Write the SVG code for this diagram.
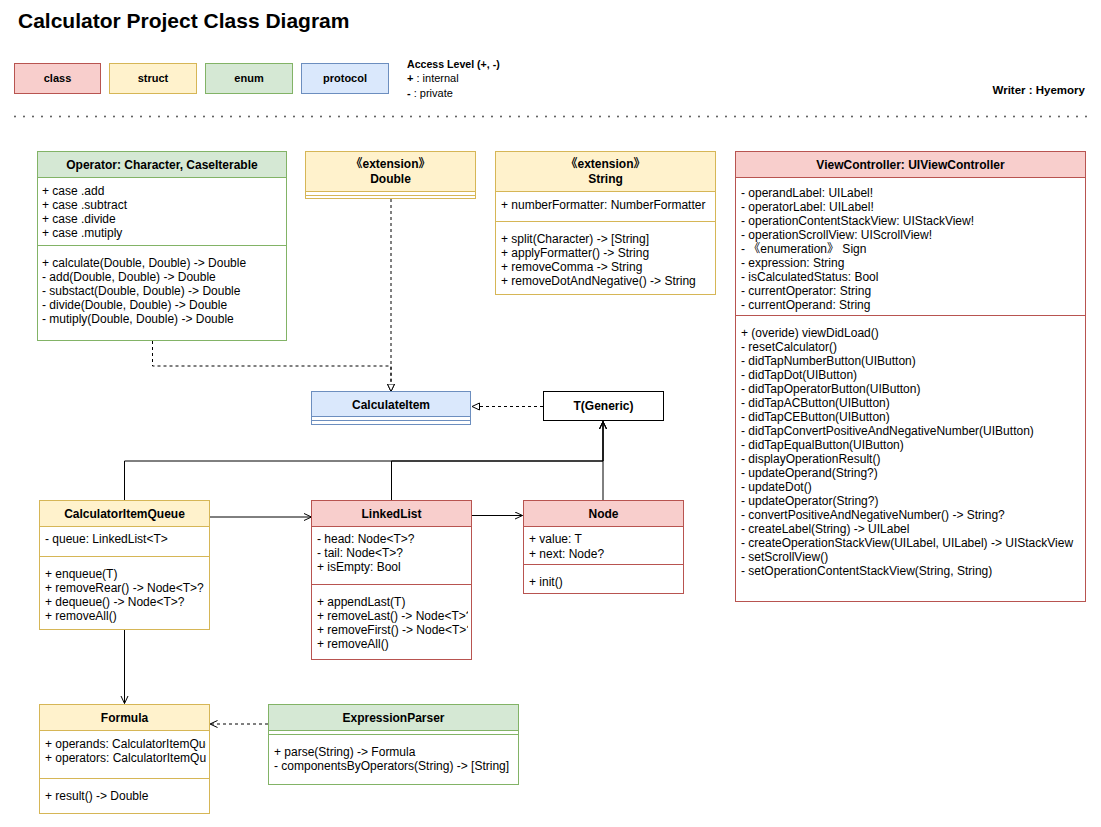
<svg xmlns="http://www.w3.org/2000/svg" width="1101" height="827" viewBox="0 0 1101 827">
<defs>
<style>
text{font-family:"Liberation Sans",Arial,Helvetica,"Noto Sans CJK SC",sans-serif;fill:#000}
.t{font-size:12px}
.h{font-size:12px;font-weight:bold;text-anchor:middle}
.lg{font-size:11px;font-weight:bold;text-anchor:middle}
.red{fill:#f8cecc;stroke:#b85450}
.yel{fill:#fff2cc;stroke:#d6b656}
.grn{fill:#d5e8d4;stroke:#82b366}
.blu{fill:#dae8fc;stroke:#6c8ebf}
.wr{fill:#fff;stroke:#b85450}
.wy{fill:#fff;stroke:#d6b656}
.wg{fill:#fff;stroke:#82b366}
.lr{stroke:#b85450}
.ly{stroke:#d6b656}
.lgn{stroke:#82b366}
.lb{stroke:#6c8ebf}
.c{fill:none;stroke:#000;stroke-width:1}
.d{fill:none;stroke:#000;stroke-width:1;stroke-dasharray:3 3}
</style>
<marker id="tri" markerUnits="userSpaceOnUse" markerWidth="10" markerHeight="10" refX="8" refY="4" orient="auto">
<path d="M0.5,0.5 L8,4 L0.5,7.5 z" fill="#fff" stroke="#000" stroke-width="1"/>
</marker>
<marker id="open" markerUnits="userSpaceOnUse" markerWidth="10" markerHeight="10" refX="8" refY="4" orient="auto">
<path d="M0.5,0.5 L8,4 L0.5,7.5" fill="none" stroke="#000" stroke-width="1"/>
</marker>
<clipPath id="clipLL"><rect x="312" y="580" width="156" height="80"/></clipPath>
<clipPath id="clipF"><rect x="39" y="731" width="167" height="50"/></clipPath>
</defs>
<rect width="1101" height="827" fill="#fff"/>

<g id="header">
<text x="18" y="28" style="font-size:21px;font-weight:bold">Calculator Project Class Diagram</text>
<rect class="red" x="14.5" y="63.5" width="86" height="30"/>
<text class="lg" x="57.5" y="82">class</text>
<rect class="yel" x="109.5" y="63.5" width="87" height="30"/>
<text class="lg" x="153" y="82">struct</text>
<rect class="grn" x="205.5" y="63.5" width="87" height="30"/>
<text class="lg" x="249" y="82">enum</text>
<rect class="blu" x="301.5" y="63.5" width="87" height="30"/>
<text class="lg" x="345" y="82">protocol</text>
<text x="407" y="68" style="font-size:10.6px;font-weight:bold">Access Level (+, -)</text>
<text x="407" y="82" style="font-size:11px"><tspan font-weight="bold">+</tspan> : internal</text>
<text x="407" y="97" style="font-size:11px"><tspan font-weight="bold">-</tspan>  : private</text>
<text x="1085" y="94" style="font-size:11.5px;font-weight:bold;text-anchor:end">Writer : Hyemory</text>
<line x1="15" y1="116.5" x2="1092" y2="116.5" stroke="#444" stroke-width="1.8" stroke-linecap="round" stroke-dasharray="0 9"/>
</g>

<g id="connectors">
<path class="d" d="M152.5 341 V366 H391 V391.5" marker-end="url(#tri)"/>
<path class="d" d="M391 199 V391.5" marker-end="url(#tri)"/>
<path class="d" d="M543 406.5 H472" marker-end="url(#tri)"/>
<path class="c" d="M124.5 500.5 V461 H603 V421.5" marker-end="url(#open)"/>
<path class="c" d="M391.5 500.5 V461 H603 V421.5" marker-end="url(#open)"/>
<path class="c" d="M603 500 V421.5" marker-end="url(#open)"/>
<path class="c" d="M209 517 H311.5" marker-end="url(#open)"/>
<path class="c" d="M472 515.5 H522.5" marker-end="url(#open)"/>
<path class="c" d="M124.5 630 V703.5" marker-end="url(#open)"/>
<path class="d" d="M268 724 H210" marker-end="url(#open)"/>
</g>

<g id="Operator">
<rect class="wg" x="37.5" y="151.5" width="249" height="189"/>
<rect class="grn" x="37.5" y="151.5" width="249" height="26"/>
<line class="lgn" x1="37.5" y1="245.5" x2="286.5" y2="245.5"/>
<text class="h" x="162" y="169">Operator: Character, CaseIterable</text>
<text class="t" x="42" y="195">+ case .add</text>
<text class="t" x="42" y="209">+ case .subtract</text>
<text class="t" x="42" y="223">+ case .divide</text>
<text class="t" x="42" y="237">+ case .mutiply</text>
<text class="t" x="42" y="267">+ calculate(Double, Double) -&gt; Double</text>
<text class="t" x="42" y="281">- add(Double, Double) -&gt; Double</text>
<text class="t" x="42" y="295">- substact(Double, Double) -&gt; Double</text>
<text class="t" x="42" y="309">- divide(Double, Double) -&gt; Double</text>
<text class="t" x="42" y="323">- mutiply(Double, Double) -&gt; Double</text>
</g>

<g id="ExtDouble">
<rect class="yel" x="305.5" y="151.5" width="170" height="47"/>
<line class="ly" x1="305.5" y1="191.5" x2="475.5" y2="191.5"/>
<rect x="306" y="192" width="169" height="6" fill="#fff"/>
<line class="ly" x1="305.5" y1="195.5" x2="475.5" y2="195.5"/>
<text class="h" x="390.5" y="168">《extension》</text>
<text class="h" x="390.5" y="183">Double</text>
</g>

<g id="ExtString">
<rect class="wy" x="495.5" y="151.5" width="220" height="143"/>
<rect class="yel" x="495.5" y="151.5" width="220" height="40"/>
<line class="ly" x1="495.5" y1="221.5" x2="715.5" y2="221.5"/>
<text class="h" x="605.5" y="168">《extension》</text>
<text class="h" x="605.5" y="183">String</text>
<text class="t" x="501" y="209">+ numberFormatter: NumberFormatter</text>
<text class="t" x="501" y="243">+ split(Character) -&gt; [String]</text>
<text class="t" x="501" y="257">+ applyFormatter() -&gt; String</text>
<text class="t" x="501" y="271">+ removeComma -&gt; String</text>
<text class="t" x="501" y="285">+ removeDotAndNegative() -&gt; String</text>
</g>

<g id="ViewController">
<rect class="wr" x="735.5" y="151.5" width="350" height="450"/>
<rect class="red" x="735.5" y="151.5" width="350" height="26"/>
<line class="lr" x1="735.5" y1="315.5" x2="1085.5" y2="315.5"/>
<text class="h" x="910.5" y="169">ViewController: UIViewController</text>
<text class="t" x="741" y="197">- operandLabel: UILabel!</text>
<text class="t" x="741" y="211">- operatorLabel: UILabel!</text>
<text class="t" x="741" y="225">- operationContentStackView: UIStackView!</text>
<text class="t" x="741" y="239">- operationScrollView: UIScrollView!</text>
<text class="t" x="741" y="253">- 《enumeration》 Sign</text>
<text class="t" x="741" y="267">- expression: String</text>
<text class="t" x="741" y="281">- isCalculatedStatus: Bool</text>
<text class="t" x="741" y="295">- currentOperator: String</text>
<text class="t" x="741" y="309">- currentOperand: String</text>
<text class="t" x="741" y="337">+ (overide) viewDidLoad()</text>
<text class="t" x="741" y="351">- resetCalculator()</text>
<text class="t" x="741" y="365">- didTapNumberButton(UIButton)</text>
<text class="t" x="741" y="379">- didTapDot(UIButton)</text>
<text class="t" x="741" y="393">- didTapOperatorButton(UIButton)</text>
<text class="t" x="741" y="407">- didTapACButton(UIButton)</text>
<text class="t" x="741" y="421">- didTapCEButton(UIButton)</text>
<text class="t" x="741" y="435">- didTapConvertPositiveAndNegativeNumber(UIButton)</text>
<text class="t" x="741" y="449">- didTapEqualButton(UIButton)</text>
<text class="t" x="741" y="463">- displayOperationResult()</text>
<text class="t" x="741" y="477">- updateOperand(String?)</text>
<text class="t" x="741" y="491">- updateDot()</text>
<text class="t" x="741" y="505">- updateOperator(String?)</text>
<text class="t" x="741" y="519">- convertPositiveAndNegativeNumber() -&gt; String?</text>
<text class="t" x="741" y="533">- createLabel(String) -&gt; UILabel</text>
<text class="t" x="741" y="547">- createOperationStackView(UILabel, UILabel) -&gt; UIStackView</text>
<text class="t" x="741" y="561">- setScrollView()</text>
<text class="t" x="741" y="575">- setOperationContentStackView(String, String)</text>
</g>

<g id="CalculateItem">
<rect class="blu" x="311.5" y="391.5" width="159" height="33"/>
<line class="lb" x1="311.5" y1="416.5" x2="470.5" y2="416.5"/>
<rect x="312" y="417" width="158" height="7" fill="#fff"/>
<line class="lb" x1="311.5" y1="420.5" x2="470.5" y2="420.5"/>
<text class="h" x="391" y="409">CalculateItem</text>
</g>

<g id="TGeneric">
<rect x="543.5" y="391.5" width="120" height="29" fill="#fff" stroke="#000"/>
<text class="h" x="603.5" y="410">T(Generic)</text>
</g>

<g id="CalculatorItemQueue">
<rect class="wy" x="39.5" y="500.5" width="170" height="129"/>
<rect class="yel" x="39.5" y="500.5" width="170" height="26"/>
<line class="ly" x1="39.5" y1="556.5" x2="209.5" y2="556.5"/>
<text class="h" x="124.5" y="518">CalculatorItemQueue</text>
<text class="t" x="45" y="543">- queue: LinkedList&lt;T&gt;</text>
<text class="t" x="45" y="578">+ enqueue(T)</text>
<text class="t" x="45" y="592">+ removeRear() -&gt; Node&lt;T&gt;?</text>
<text class="t" x="45" y="606">+ dequeue() -&gt; Node&lt;T&gt;?</text>
<text class="t" x="45" y="620">+ removeAll()</text>
</g>

<g id="LinkedList">
<rect class="wr" x="311.5" y="500.5" width="160" height="159"/>
<rect class="red" x="311.5" y="500.5" width="160" height="26"/>
<line class="lr" x1="311.5" y1="584.5" x2="471.5" y2="584.5"/>
<text class="h" x="391.5" y="518">LinkedList</text>
<text class="t" x="317" y="543">- head: Node&lt;T&gt;?</text>
<text class="t" x="317" y="557">- tail: Node&lt;T&gt;?</text>
<text class="t" x="317" y="571">+ isEmpty: Bool</text>
<g clip-path="url(#clipLL)">
<text class="t" x="317" y="606">+ appendLast(T)</text>
<text class="t" x="317" y="620">+ removeLast() -&gt; Node&lt;T&gt;?</text>
<text class="t" x="317" y="634">+ removeFirst() -&gt; Node&lt;T&gt;?</text>
<text class="t" x="317" y="648">+ removeAll()</text>
</g>
</g>

<g id="Node">
<rect class="wr" x="523.5" y="500.5" width="160" height="93"/>
<rect class="red" x="523.5" y="500.5" width="160" height="26"/>
<line class="lr" x1="523.5" y1="564.5" x2="683.5" y2="564.5"/>
<text class="h" x="603.5" y="518">Node</text>
<text class="t" x="529" y="543">+ value: T</text>
<text class="t" x="529" y="558">+ next: Node?</text>
<text class="t" x="529" y="586">+ init()</text>
</g>

<g id="Formula">
<rect class="wy" x="39.5" y="704.5" width="170" height="109"/>
<rect class="yel" x="39.5" y="704.5" width="170" height="26"/>
<line class="ly" x1="39.5" y1="778.5" x2="209.5" y2="778.5"/>
<text class="h" x="124.5" y="722">Formula</text>
<g clip-path="url(#clipF)">
<text class="t" x="45" y="748">+ operands: CalculatorItemQueue</text>
<text class="t" x="45" y="762">+ operators: CalculatorItemQueue</text>
</g>
<text class="t" x="45" y="800">+ result() -&gt; Double</text>
</g>

<g id="ExpressionParser">
<rect class="wg" x="268.5" y="704.5" width="250" height="80"/>
<rect class="grn" x="268.5" y="704.5" width="250" height="26"/>
<line class="lgn" x1="268.5" y1="734.5" x2="518.5" y2="734.5"/>
<text class="h" x="393.5" y="722">ExpressionParser</text>
<text class="t" x="274" y="756">+ parse(String) -&gt; Formula</text>
<text class="t" x="274" y="770">- componentsByOperators(String) -&gt; [String]</text>
</g>
</svg>
